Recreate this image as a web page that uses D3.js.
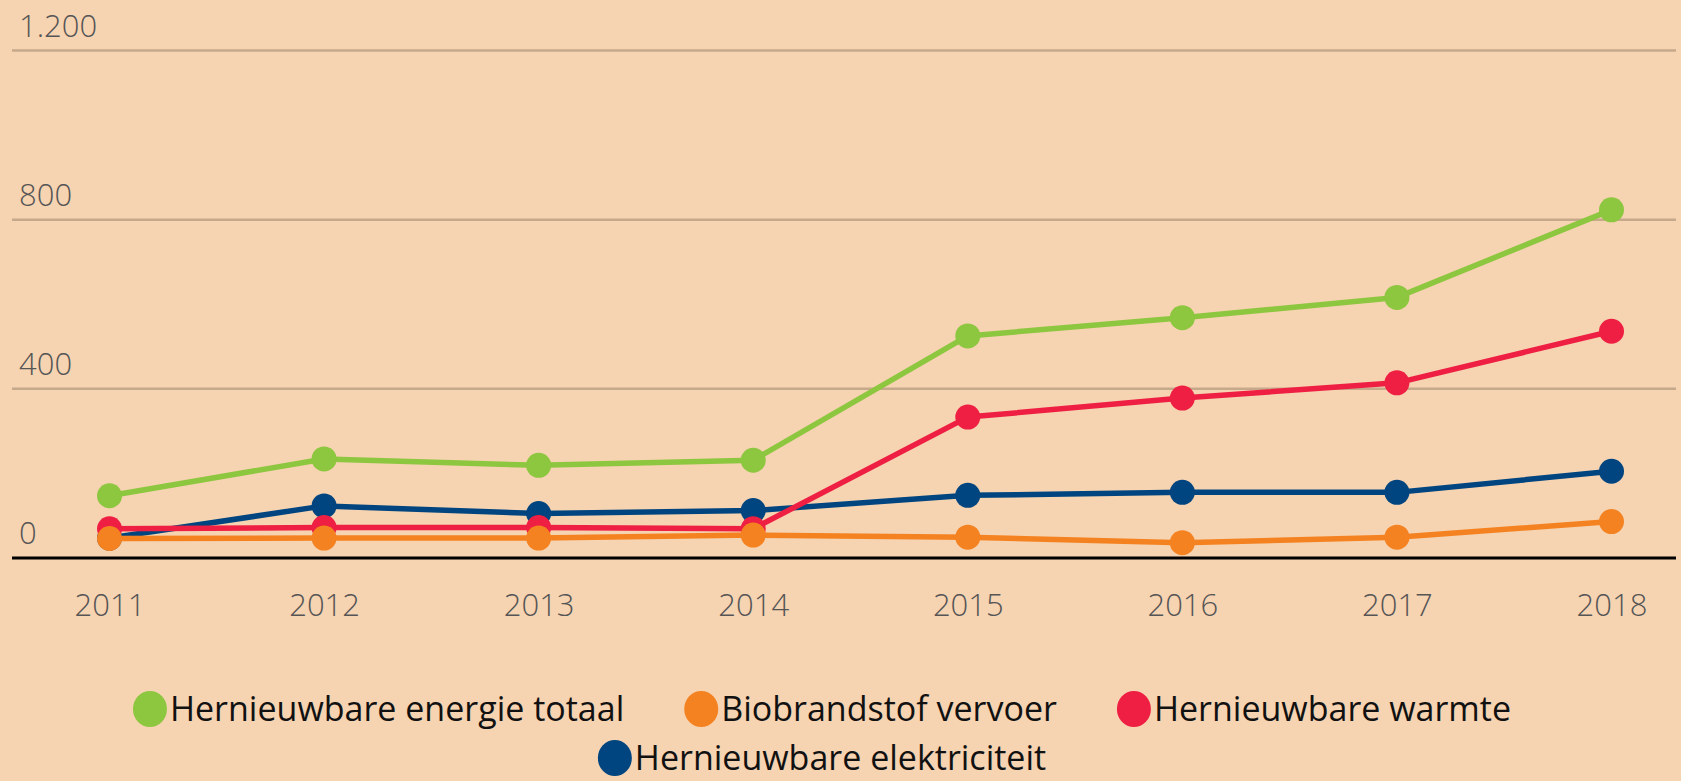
<!DOCTYPE html>
<html>
<head>
<meta charset="utf-8">
<script src="https://cdn.jsdelivr.net/npm/d3@7"></script>
<style>
  html, body { margin: 0; padding: 0; background: #f6d3b1; overflow: hidden; }
  svg { display: block; }
  .grid text { font-family: "Open Sans", sans-serif; font-weight: 300; fill: #555; }
  .x.axis text { font-family: "Open Sans", sans-serif; font-weight: 300; fill: #555; }
  .legend text { font-family: "Open Sans", sans-serif; fill: #111; }
</style>
</head>
<body>
<div id="chart"></div>
<script>
const years = ['2011', '2012', '2013', '2014', '2015', '2016', '2017', '2018']
const yTicks = [0, 400, 800, 1200]

const totaal = [146, 233, 218, 230, 524, 567, 615, 822]
const vervoer = [45, 46, 46, 53, 48, 35, 48, 85]
const warmte = [68, 71, 71, 68, 332, 377, 413, 535]
const elektriciteit = [46, 122, 104, 111, 147, 154, 154, 204]

const seriesNames = ['Hernieuwbare energie totaal', 'Biobrandstof vervoer', 'Hernieuwbare warmte', 'Hernieuwbare elektriciteit']
const seriesColors = ['#8dc63f', '#f58220', '#ee1f42', '#00457f']

// draw order: back to front
const series = [
  { name: seriesNames[0], color: seriesColors[0], values: totaal },
  { name: seriesNames[3], color: seriesColors[3], values: elektriciteit },
  { name: seriesNames[2], color: seriesColors[2], values: warmte },
  { name: seriesNames[1], color: seriesColors[1], values: vervoer },
]

const W = 1681, H = 781
const gridLeft = 12, gridRight = 1676

const nl = d3.formatLocale({ decimal: ',', thousands: '.', grouping: [3], currency: ['€', ''] })
const fmt = nl.format(',d')

const xScale = d3.scalePoint()
  .domain(years)
  .range([109.5, 1611.5])

const yScale = d3.scaleLinear()
  .domain([0, 1200])
  .range([557.5, 50])

const svg = d3.select('#chart').append('svg')
  .attr('width', W)
  .attr('height', H)

svg.append('rect')
  .attr('width', W).attr('height', H)
  .attr('fill', '#f6d3b1')

// Grid lines + y labels
const grid = svg.append('g')
  .attr('class', 'grid')
  .attr('transform', 'translate(' + gridLeft + ',0)')
  .call(d3.axisLeft(yScale)
    .tickValues(yTicks)
    .tickSize(-(gridRight - gridLeft))
    .tickFormat(fmt))

grid.select('.domain').remove()
grid.selectAll('.tick line')
  .attr('stroke', d => d === 0 ? '#000' : '#c6a98b')
  .attr('stroke-width', d => d === 0 ? 3 : 2.5)
grid.selectAll('.tick text')
  .attr('text-anchor', 'start')
  .attr('x', 7)
  .attr('y', -14)
  .attr('dy', 0)
  .style('font-size', '31px')

// X axis labels
const xAxis = svg.append('g')
  .attr('class', 'x axis')
  .attr('transform', 'translate(0,' + yScale(0) + ')')
  .call(d3.axisBottom(xScale).tickSize(0).tickPadding(0))

xAxis.select('.domain').remove()
xAxis.selectAll('.tick text')
  .attr('y', 58)
  .attr('dy', 0)
  .style('font-size', '31px')

const lineGenerator = d3.line()
  .x((d, i) => xScale(years[i]))
  .y(d => yScale(d))

series.forEach(s => {
  const g = svg.append('g')
  g.append('path')
    .datum(s.values)
    .attr('fill', 'none')
    .attr('stroke', s.color)
    .attr('stroke-width', 5.5)
    .attr('stroke-linejoin', 'round')
    .attr('d', lineGenerator)

  g.selectAll('circle')
    .data(s.values)
    .enter().append('circle')
    .attr('fill', s.color)
    .attr('cx', (d, i) => xScale(years[i]))
    .attr('cy', d => yScale(d))
    .attr('r', 12.5)
})

// Legend
const legend = svg.append('g').attr('class', 'legend')
const legendRows = [[0, 1, 2], [3]]
const rowY = [709, 758]
const legendCenter = 822
const r = 17, gapText = 3, gapItem = 60

legendRows.forEach((row, ri) => {
  const items = row.map(idx => {
    const g = legend.append('g')
    g.append('ellipse')
      .attr('rx', r).attr('ry', r + 1)
      .attr('fill', seriesColors[idx])
    const t = g.append('text')
      .attr('x', r + gapText)
      .attr('dy', '0.36em')
      .style('font-size', '34px')
      .text(seriesNames[idx])
    const w = 2 * r + gapText + t.node().getComputedTextLength()
    return { g, w }
  })
  const total = d3.sum(items, d => d.w) + gapItem * (items.length - 1)
  let x = legendCenter - total / 2
  items.forEach(it => {
    it.g.attr('transform', 'translate(' + (x + r) + ',' + rowY[ri] + ')')
    x += it.w + gapItem
  })
})
</script>
</body>
</html>
